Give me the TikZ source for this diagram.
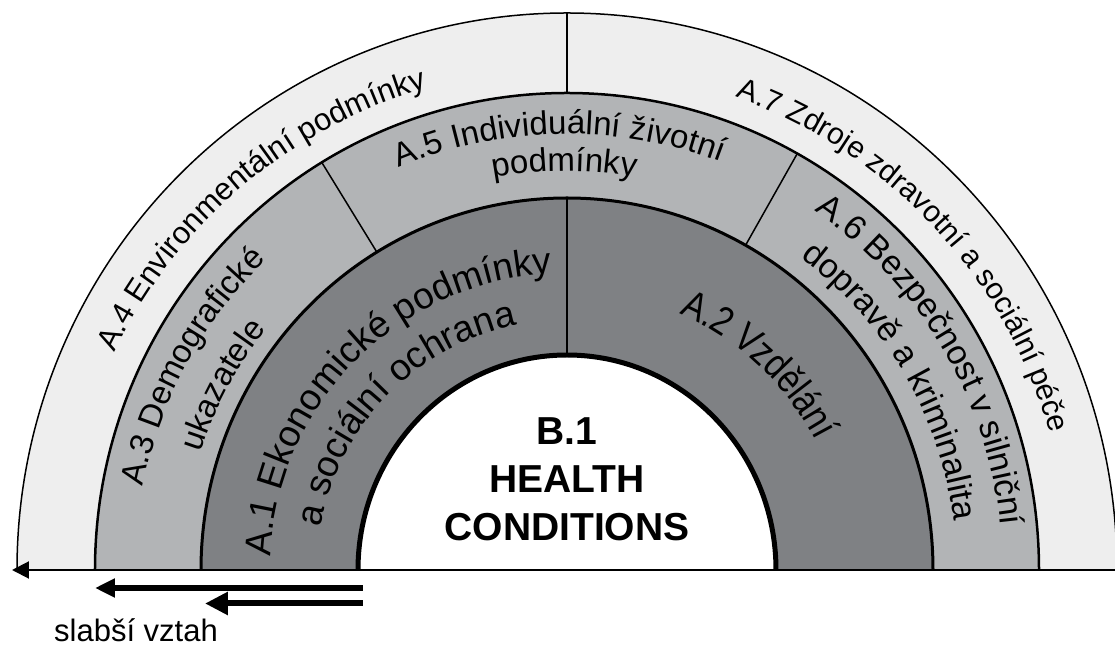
\documentclass[tikz,border=0pt]{standalone}
\usepackage{fontspec}
\setmainfont{Liberation Sans}
\newfontfamily\narrowsans[FakeStretch=0.84]{Liberation Sans}
\usetikzlibrary{decorations.text,arrows.meta}
\definecolor{ringlight}{RGB}{238,238,238}
\definecolor{ringmid}{RGB}{178,180,182}
\definecolor{ringdark}{RGB}{127,129,132}

% label set on an invisible arc: centre angle, baseline radius, font commands, text
\newcommand\arclabel[4]{%
  \path[decorate,decoration={text along path,text align=center,
    text={|#3|#4}}]
    ({#1+80}:#2) arc[start angle={#1+80},end angle={#1-80},radius=#2];}
\newcommand\fs[1]{\fontsize{#1}{#1}\selectfont}

\begin{document}
\begin{tikzpicture}[x=1pt,y=1pt,
  divider/.style={line width=1.5pt,black},
  halfring/.style={line width=#1,black}]
\useasboundingbox (-567,-77) rectangle (548,570);

% filled half discs, largest first
\fill[ringlight] (-550,0) arc[start angle=180,end angle=0,x radius=550,y radius=557] -- cycle;
\fill[ringmid]   (-472,0) arc[start angle=180,end angle=0,x radius=472,y radius=477] -- cycle;
\fill[ringdark]  (-366,0) arc[start angle=180,end angle=0,x radius=366,y radius=372] -- cycle;
\fill[white]     (-209,0) arc[start angle=180,end angle=0,x radius=209,y radius=215] -- cycle;

% sector dividers
\draw[divider] (0,477) -- (0,557);
\draw[divider] ({472*cos(121.3)},{477*sin(121.3)}) -- ({366*cos(121.3)},{372*sin(121.3)});
\draw[divider] ({472*cos(60.8)},{477*sin(60.8)}) -- ({366*cos(60.8)},{372*sin(60.8)});
\draw[divider] (0,215) -- (0,372);

% ring outlines
\draw[halfring=1.5pt] (-550,0) arc[start angle=180,end angle=0,x radius=550,y radius=557];
\draw[halfring=2.5pt] (-472,0) arc[start angle=180,end angle=0,x radius=472,y radius=477];
\draw[halfring=3pt]   (-366,0) arc[start angle=180,end angle=0,x radius=366,y radius=372];
\draw[halfring=5pt]   (-209,0) arc[start angle=180,end angle=0,x radius=209,y radius=215];

% outer ring
\arclabel{130.3}{502}{\fs{31}}{A.4 Environmentální podmínky}
\arclabel{43.1}{502}{\fs{30}}{A.7 Zdroje zdravotní a sociální péče}
% middle ring
\arclabel{91}{436}{\fs{33}}{A.5 Individuální životní}
\arclabel{90.4}{399}{\fs{33}}{podmínky}
\arclabel{151.5}{432}{\fs{33}}{A.3 Demografické}
\arclabel{151.8}{385}{\fs{33}}{ukazatele}
\arclabel{30.6}{436}{\fs{34}}{A.6 Bezpečnost v silniční}
\arclabel{30.2}{390}{\fs{34}}{dopravě a kriminalita}
% inner ring
\arclabel{135.1}{297}{\fs{37}}{A.1 Ekonomické podmínky}
\arclabel{135.9}{250}{\fs{37}}{a sociální ochrana}
\arclabel{46.9}{280}{\narrowsans\fs{40}}{A.2 Vzdělání}

% centre
\node[font=\bfseries\fs{39},anchor=base] (b1) at (0,125) {B.1};
\node[font=\bfseries\fs{39},anchor=base] (health) at (0,77) {HEALTH};
\node[font=\bfseries\fs{39},anchor=base] (cond) at (0,29) {CONDITIONS};

% base line and arrows
\coordinate (baseR) at (548,0);
\coordinate (baseL) at (-555,0);
\draw[line width=2pt,-{Triangle[length=17pt,width=17pt]}] (baseR) -- (baseL);
\coordinate (a1s) at (-204,-18);
\coordinate (a1e) at (-472,-18);
\draw[line width=6pt,-{Triangle[length=20pt,width=18pt]}] (a1s) -- (a1e);
\coordinate (a2s) at (-204,-33.5);
\coordinate (a2e) at (-362,-33.5);
\draw[line width=6pt,-{Triangle[length=23pt,width=22pt]}] (a2s) -- (a2e);

\node[font=\fs{31},anchor=base,inner sep=0pt] (weak) at (-431,-71) {slabší vztah};
\end{tikzpicture}
\end{document}
